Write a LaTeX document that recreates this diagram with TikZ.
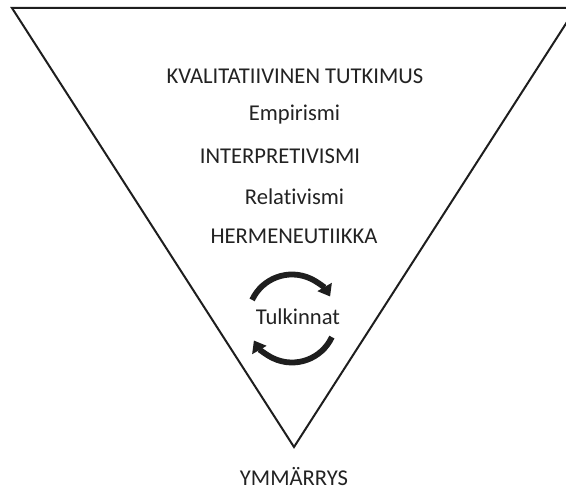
\documentclass[tikz,border=0pt]{standalone}
\usepackage{fontspec}
\setmainfont{Carlito}[Ligatures={NoCommon}]
\usetikzlibrary{arrows.meta}
\definecolor{ink}{HTML}{1E1E1E}
\definecolor{txt}{HTML}{222222}
\begin{document}
\begin{tikzpicture}[x=1pt,y=1pt,
  label/.style={anchor=base, inner sep=0pt, text=txt,
    font=\fontsize{22.6}{26}\selectfont},
  edge/.style={draw=ink, line width=2pt, line join=miter},
  cycle arrow/.style={draw=ink, line width=5.8pt,
    -{Triangle[length=11pt, width=16pt]}}]
\useasboundingbox (0,0) rectangle (566,490);

% inverted triangle
\coordinate (tl) at (12,482);
\coordinate (tr) at (576,482);
\coordinate (apex) at (294,43);
\draw[edge] (tl) -- (tr) -- (apex) -- cycle;

% labels inside the triangle
\node[label] (kval) at (295,406.5) {KVALITATIIVINEN TUTKIMUS};
\node[label] (emp)  at (294.5,369.3) {Empirismi};
\node[label] (interp) at (280,326) {INTERPRETIVISMI};
\node[label] (rel)  at (294.5,285) {Relativismi};
\node[label] (herm) at (294,246) {HERMENEUTIIKKA};
\node[label] (tulk) at (298,165) {Tulkinnat};
\node[label] (ymm)  at (294,4.5) {YMMÄRRYS};

% interpretation cycle
\coordinate (cyc) at (292,171.5);
\draw[cycle arrow] (cyc) ++(155:44) arc[start angle=155, end angle=30, radius=44];
\draw[cycle arrow] (cyc) ++(-25:44) arc[start angle=-25, end angle=-150, radius=44];
\end{tikzpicture}
\end{document}
